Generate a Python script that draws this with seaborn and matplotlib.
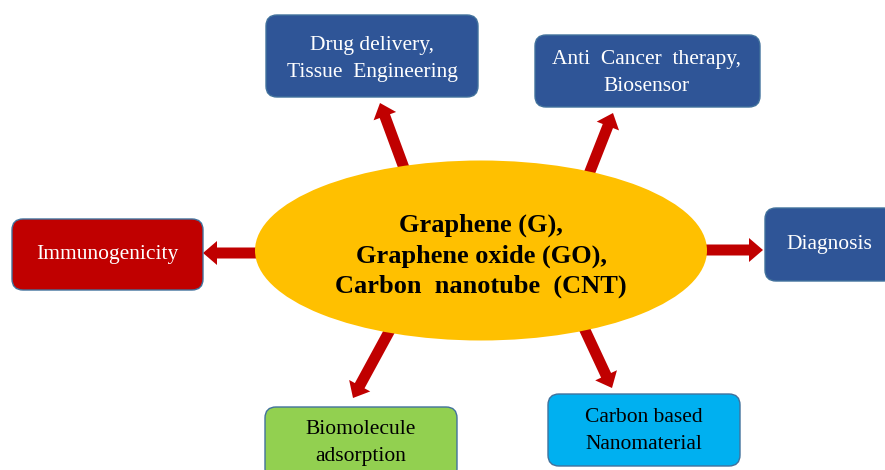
import matplotlib
matplotlib.use("Agg")
import matplotlib.pyplot as plt
from matplotlib.patches import FancyBboxPatch, Ellipse, FancyArrow
import seaborn as sns

# ---- content ----
center_lines = ["Graphene (G),", "Graphene oxide (GO),", "Carbon  nanotube  (CNT)"]
node_labels = [
    "Drug delivery,\nTissue  Engineering",
    "Anti  Cancer  therapy,\nBiosensor",
    "Immunogenicity",
    "Diagnosis",
    "Biomolecule\nadsorption",
    "Carbon based\nNanomaterial",
]
node_colors = ["#2F5597", "#2F5597", "#C00000", "#2F5597", "#92D050", "#00B0F0"]
node_text_colors = ["white", "white", "white", "white", "black", "black"]

# ---- layout (pixel space, y downward) ----
box_x0 = [266, 535, 12, 765, 265, 548]
box_x1 = [478, 760, 203, 895, 457, 740]
box_y0 = [15, 35, 219, 208, 407, 394]
box_y1 = [97, 107, 290, 281, 480, 466]
text_cx = [372, 647, 107, 829, 361, 644]
text_cy = [59, 73, 254, 244, 443, 431]

arrow_from = [(404, 168), (589, 174), (258, 253), (704, 250), (390, 330), (584, 328)]
arrow_to = [(380, 103), (613, 113), (203, 253), (763, 250), (353, 398), (612, 388)]

ellipse_center = (481, 250.5)
ellipse_w, ellipse_h = 452, 180

sns.set_theme(style="white")
plt.rcParams['font.family'] = ['Liberation Serif', 'DejaVu Serif']

fig = plt.figure(figsize=(8.85, 4.70), dpi=100)
ax = fig.add_axes([0, 0, 1, 1])
ax.set_xlim(0, 885)
ax.set_ylim(470, 0)
ax.set_axis_off()

# arrows
for (x0, y0), (x1, y1) in zip(arrow_from, arrow_to):
    ax.add_patch(FancyArrow(x0, y0, x1 - x0, y1 - y0, width=11, head_width=24,
                            head_length=14, length_includes_head=True,
                            color="#C00000", lw=0, zorder=1))

# central ellipse
ax.add_patch(Ellipse(ellipse_center, ellipse_w, ellipse_h, facecolor="#FFC000",
                     edgecolor="none", zorder=2))
ax.text(ellipse_center[0], 256, "\n".join(center_lines),
        ha="center", va="center", fontsize=19, fontweight="bold", color="black",
        linespacing=1.38, zorder=3)

# boxes
for i, lab in enumerate(node_labels):
    x0, x1, y0, y1 = box_x0[i], box_x1[i], box_y0[i], box_y1[i]
    ax.add_patch(FancyBboxPatch((x0, y0), x1 - x0, y1 - y0,
                                boxstyle="round,pad=0,rounding_size=11",
                                facecolor=node_colors[i], edgecolor="#41719C",
                                lw=1.0, zorder=2))
    ax.text(text_cx[i], text_cy[i], lab, ha="center", va="center", fontsize=15.5,
            color=node_text_colors[i], linespacing=1.55, zorder=3)

fig.savefig("out.png", dpi=100)
